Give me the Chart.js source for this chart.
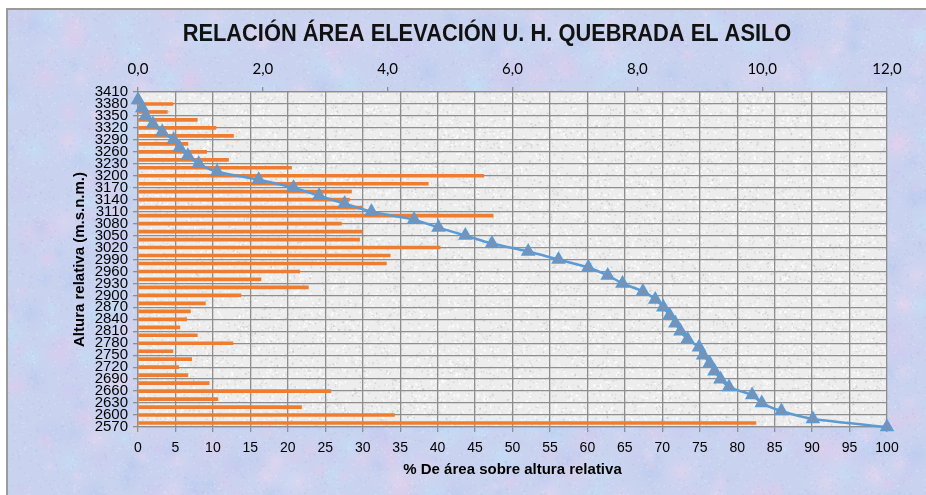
<!DOCTYPE html>
<html>
<head>
<meta charset="utf-8">
<script src="https://cdn.jsdelivr.net/npm/chart.js@4/dist/chart.umd.min.js"></script>
<style>
  html, body { margin: 0; padding: 0; background: #fff; }
  #wrap { width: 926px; height: 495px; }
</style>
</head>
<body>
<div id="wrap"><canvas id="grafico"></canvas></div>
<script>
// cotas (m.s.n.m.) de cada banda y % de area en la banda
const cotaBarras = [3380, 3360, 3340, 3320, 3300, 3280, 3260, 3240, 3220, 3200, 3180, 3160, 3140, 3120, 3100, 3080, 3060, 3040, 3020, 3000, 2980, 2960, 2940, 2920, 2900, 2880, 2860, 2840, 2820, 2800, 2780, 2760, 2740, 2720, 2700, 2680, 2660, 2640, 2620, 2600, 2580];
const pctArea = [0.56, 0.47, 0.95, 1.25, 1.53, 0.80, 1.10, 1.45, 2.46, 5.54, 4.65, 3.42, 3.39, 3.60, 5.69, 3.26, 3.59, 3.55, 4.84, 4.04, 3.98, 2.59, 1.97, 2.73, 1.65, 1.08, 0.84, 0.78, 0.67, 0.95, 1.52, 0.56, 0.86, 0.65, 0.80, 1.14, 3.09, 1.28, 2.62, 4.11, 9.90];

// curva hipsometrica: % acumulado sobre cada cota
const cotaCurva = [3390, 3370, 3350, 3330, 3310, 3290, 3270, 3250, 3230, 3210, 3190, 3170, 3150, 3130, 3110, 3090, 3070, 3050, 3030, 3010, 2990, 2970, 2950, 2930, 2910, 2890, 2870, 2850, 2830, 2810, 2790, 2770, 2750, 2730, 2710, 2690, 2670, 2650, 2630, 2610, 2590, 2570];
const pctAcum = [0, 0.56, 1.03, 1.98, 3.23, 4.76, 5.56, 6.66, 8.11, 10.57, 16.11, 20.76, 24.18, 27.57, 31.17, 36.86, 40.12, 43.71, 47.26, 52.10, 56.14, 60.12, 62.71, 64.68, 67.41, 69.06, 70.14, 70.98, 71.76, 72.43, 73.38, 74.90, 75.46, 76.32, 76.97, 77.77, 78.91, 82.00, 83.28, 85.90, 90.10, 100];

// etiquetas del eje de altura
const cotaTicks = [3410, 3380, 3350, 3320, 3290, 3260, 3230, 3200, 3170, 3140, 3110, 3080, 3050, 3020, 2990, 2960, 2930, 2900, 2870, 2840, 2810, 2780, 2750, 2720, 2690, 2660, 2630, 2600, 2570];

const titulo = 'RELACIÓN ÁREA ELEVACIÓN U. H. QUEBRADA EL ASILO';

const GRIS = '#8e8e8e';

// pseudo ruido fijo para las texturas del fondo
function hash(i) {
  const s = Math.sin(i * 12.9898 + 78.233) * 43758.5453;
  return s - Math.floor(s);
}

function texturaFondo(w, h) {
  const c = document.createElement('canvas');
  c.width = w; c.height = h;
  const g = c.getContext('2d');
  g.fillStyle = '#c9d3ef';
  g.fillRect(0, 0, w, h);
  const tonos = ['rgba(230,200,232,0.55)', 'rgba(206,198,240,0.5)', 'rgba(190,228,250,0.5)', 'rgba(178,196,238,0.45)', 'rgba(238,214,238,0.5)'];
  for (let i = 0; i < 900; i++) {
    const x = hash(i) * w, y = hash(i + 1000) * h;
    const r = 6 + hash(i + 2000) * 22;
    const grd = g.createRadialGradient(x, y, 0, x, y, r);
    grd.addColorStop(0, tonos[i % tonos.length]);
    grd.addColorStop(1, 'rgba(200,210,240,0)');
    g.fillStyle = grd;
    g.fillRect(x - r, y - r, r * 2, r * 2);
  }
  for (let i = 0; i < 12000; i++) {
    const x = hash(i + 5000) * w, y = hash(i + 9000) * h;
    g.fillStyle = hash(i + 3000) > 0.5 ? 'rgba(255,255,255,0.22)' : 'rgba(150,160,210,0.16)';
    g.fillRect(x, y, 1.5, 1.5);
  }
  return c;
}

function texturaPlot(w, h) {
  const c = document.createElement('canvas');
  c.width = w; c.height = h;
  const g = c.getContext('2d');
  g.fillStyle = '#ededed';
  g.fillRect(0, 0, w, h);
  for (let i = 0; i < 14000; i++) {
    const x = hash(i + 20000) * w, y = hash(i + 40000) * h;
    const v = hash(i + 60000);
    g.fillStyle = v > 0.55 ? 'rgba(255,255,255,0.8)' : 'rgba(170,170,170,0.35)';
    g.fillRect(x, y, 1 + v, 1 + v);
  }
  return c;
}

const fondoPlugin = {
  id: 'fondo',
  beforeDraw(chart) {
    const { ctx, width, height, chartArea: a } = chart;
    ctx.save();
    ctx.fillStyle = '#ffffff';
    ctx.fillRect(0, 0, width, height);
    ctx.drawImage(texturaFondo(width, height), 7, 9);
    ctx.strokeStyle = '#9a9a9a';
    ctx.lineWidth = 2;
    ctx.beginPath();
    ctx.moveTo(7, height);
    ctx.lineTo(7, 9);
    ctx.lineTo(width, 9);
    ctx.stroke();
    ctx.drawImage(texturaPlot(a.right - a.left, a.bottom - a.top), a.left, a.top);
    // titulo, en negrita algo condensada
    ctx.fillStyle = '#111';
    ctx.font = 'bold 24px "Liberation Sans", Arial, sans-serif';
    ctx.textAlign = 'center';
    ctx.textBaseline = 'middle';
    ctx.translate(487, 34);
    ctx.scale(0.91, 1);
    ctx.fillText(titulo, 0, 0);
    ctx.restore();
  }
};

const ctx = document.getElementById('grafico').getContext('2d');
const chart = new Chart(ctx, {
  type: 'bar',
  data: {
    datasets: [
      {
        type: 'line',
        label: '% acumulado',
        indexAxis: 'y',
        xAxisID: 'x',
        yAxisID: 'y',
        data: cotaCurva.map((c, i) => ({ x: pctAcum[i], y: c })),
        borderColor: '#5b9bd5',
        borderWidth: 2.5,
        tension: 0.2,
        pointStyle: 'triangle',
        pointRadius: 7,
        pointBackgroundColor: '#7892b6',
        pointBorderColor: '#5b9bd5',
        pointBorderWidth: 1.5,
        clip: false,
        order: 0
      },
      {
        type: 'bar',
        label: '% área',
        indexAxis: 'y',
        xAxisID: 'x2',
        yAxisID: 'y',
        data: cotaBarras.map((c, i) => ({ x: pctArea[i], y: c })),
        backgroundColor: '#ed7d31',
        barThickness: 3,
        order: 1
      }
    ]
  },
  options: {
    indexAxis: 'y',
    responsive: true,
    maintainAspectRatio: false,
    animation: false,
    layout: { padding: { left: 0, top: 0, right: 39, bottom: 0 } },
    plugins: {
      legend: { display: false },
      tooltip: { enabled: false }
    },
    scales: {
      y: {
        type: 'linear',
        position: 'left',
        min: 2570,
        max: 3410,
        offset: false,
        afterBuildTicks: s => { s.ticks = cotaTicks.map(v => ({ value: v })); },
        afterFit: s => { s.width = 138; },
        ticks: {
          autoSkip: false,
          padding: 5,
          color: '#000',
          font: { family: '"Liberation Sans", Arial, sans-serif', size: 15, lineHeight: 1 },
          callback: v => String(v)
        },
        grid: { offset: false, color: GRIS, lineWidth: 1.3, tickLength: 5 },
        border: { color: GRIS, width: 1.3 },
        title: {
          display: true,
          text: 'Altura relativa (m.s.n.m.)',
          color: '#000',
          font: { family: '"Liberation Sans", Arial, sans-serif', size: 15, weight: 'bold' },
          padding: { top: 71, bottom: 0 }
        }
      },
      x: {
        type: 'linear',
        position: 'bottom',
        min: 0,
        max: 100,
        afterFit: s => { s.height = 68; },
        ticks: {
          stepSize: 5,
          padding: 8,
          color: '#000',
          font: { family: '"Liberation Sans", Arial, sans-serif', size: 14 }
        },
        grid: { color: GRIS, lineWidth: 1.3, tickLength: 5 },
        border: { color: GRIS, width: 1.3 },
        title: {
          display: true,
          text: '% De área sobre altura relativa',
          color: '#000',
          font: { family: '"Liberation Sans", Arial, sans-serif', size: 15, weight: 'bold' },
          padding: { top: 0, bottom: 16 }
        }
      },
      x2: {
        type: 'linear',
        position: 'top',
        min: 0,
        max: 12,
        afterFit: s => { s.height = 92; },
        ticks: {
          stepSize: 2,
          padding: 9,
          color: '#000',
          font: { family: 'Lato, "Open Sans", sans-serif', size: 15 },
          callback: v => v.toFixed(1).replace('.', ',')
        },
        grid: { drawOnChartArea: false, color: GRIS, lineWidth: 1.3, tickLength: 5 },
        border: { color: GRIS, width: 1.3 }
      }
    }
  },
  plugins: [fondoPlugin]
});
</script>
</body>
</html>
